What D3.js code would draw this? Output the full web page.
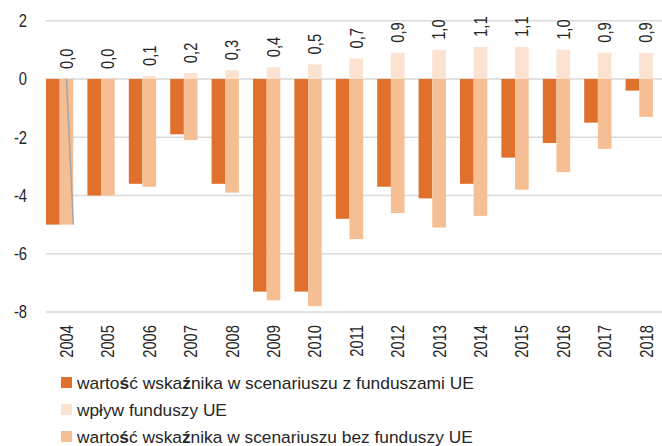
<!DOCTYPE html>
<html>
<head>
<meta charset="utf-8">
<style>
  body { margin: 0; background: #fff; }
  svg text { font-family: "Liberation Sans", Arial, sans-serif; fill: #262626; }
  .grid line { stroke: #d9d9d9; stroke-width: 1.5; }
</style>
</head>
<body>
<svg width="662" height="446"></svg>
<script src="https://cdn.jsdelivr.net/npm/d3@7"></script>
<script>

var years = ["2004","2005","2006","2007","2008","2009","2010","2011","2012","2013","2014","2015","2016","2017","2018"];
var withFunds = [-5.0,-4.0,-3.6,-1.9,-3.6,-7.3,-7.3,-4.8,-3.7,-4.1,-3.6,-2.7,-2.2,-1.5,-0.4];
var impact = [0.0,0.0,0.1,0.2,0.3,0.4,0.5,0.7,0.9,1.0,1.1,1.1,1.0,0.9,0.9];
var withoutFunds = [-5.0,-4.0,-3.7,-2.1,-3.9,-7.6,-7.8,-5.5,-4.6,-5.1,-4.7,-3.8,-3.2,-2.4,-1.3];
var yTicks = [2, 0, -2, -4, -6, -8];
// stray grey leader line seen on 2004
var leader = [0, -5.0];

var legendItems = [
  {parts: [["warto", false], ["ś", true], ["ć wska", false], ["ź", true], ["nika w scenariuszu z funduszami UE", false]], color: "#df712d", width: 397},
  {parts: [["wpływ funduszy UE", false]], color: "#fbe2d1", width: 150},
  {parts: [["warto", false], ["ś", true], ["ć wska", false], ["ź", true], ["nika w scenariuszu bez funduszy UE", false]], color: "#f6be93", width: 396}
];

var svg = d3.select("svg");
var left = 46, step = 41.4, narrow = "scale(0.82,1)";

var x = d3.scaleBand().domain(years).range([left, left + step * years.length]).padding(0);
var y = d3.scaleLinear().domain([-8, 2]).range([312, 20.7]);
var bw = x.bandwidth() * 0.33;

// gridlines
svg.append("g").attr("class", "grid")
  .selectAll("line").data(yTicks).join("line")
  .attr("x1", left).attr("x2", 662)
  .attr("y1", function(d) { return y(d); })
  .attr("y2", function(d) { return y(d); });

// y labels
svg.append("g").selectAll("text").data(yTicks).join("text")
  .attr("transform", function(d) { return "translate(27," + y(d) + ") " + narrow; })
  .attr("dy", "0.35em").attr("text-anchor", "end")
  .attr("font-size", 18)
  .text(function(d) { return String(d); });

var data = years.map(function(yr, i) {
  return {year: yr, a: withFunds[i], b: impact[i], c: withoutFunds[i]};
});

// dark bars
svg.append("g").selectAll("rect").data(data).join("rect")
  .attr("x", function(d) { return x(d.year); })
  .attr("width", bw)
  .attr("y", function(d) { return y(Math.max(0, d.a)); })
  .attr("height", function(d) { return Math.abs(y(d.a) - y(0)); })
  .attr("fill", "#df712d");

// impact bars (positive)
svg.append("g").selectAll("rect").data(data).join("rect")
  .attr("x", function(d) { return x(d.year) + bw; })
  .attr("width", bw)
  .attr("y", function(d) { return y(d.b); })
  .attr("height", function(d) { return y(0) - y(d.b); })
  .attr("fill", "#fbe2d1");

// without funds bars
svg.append("g").selectAll("rect").data(data).join("rect")
  .attr("x", function(d) { return x(d.year) + bw; })
  .attr("width", bw)
  .attr("y", y(0))
  .attr("height", function(d) { return y(d.c) - y(0); })
  .attr("fill", "#f6be93");

// leader line
svg.append("line")
  .attr("x1", x("2004") + bw * 1.5).attr("y1", y(leader[0]))
  .attr("x2", x("2004") + bw * 2).attr("y2", y(leader[1]))
  .attr("stroke", "#a6a6a6").attr("stroke-width", 1.5);

// data labels
var fmt = function(v) { return v.toFixed(1).replace(".", ","); };
svg.append("g").selectAll("text").data(data).join("text")
  .attr("transform", function(d) {
    return "translate(" + (x(d.year) + bw * 1.5) + "," + (y(d.b) - 10) + ") rotate(-90) " + narrow;
  })
  .attr("dy", "0.35em")
  .attr("font-size", 18)
  .text(function(d) { return fmt(d.b); });

// year labels
svg.append("g").selectAll("text").data(years).join("text")
  .attr("transform", function(d) {
    return "translate(" + (x(d) + x.bandwidth() / 2) + ",325) rotate(-90) " + narrow;
  })
  .attr("dy", "0.35em").attr("text-anchor", "end")
  .attr("font-size", 18)
  .text(function(d) { return d; });

// legend
var lg = svg.append("g").selectAll("g").data(legendItems).join("g")
  .attr("transform", function(d, i) { return "translate(61," + (383 + i * 27) + ")"; });
lg.append("rect").attr("x", 0).attr("y", -6).attr("width", 11).attr("height", 11)
  .attr("fill", function(d) { return d.color; });
lg.append("text").attr("dy", "0.35em").attr("font-size", 17)
  .each(function(d) {
    var t = d3.select(this);
    t.selectAll("tspan").data(d.parts).join("tspan")
      .attr("font-weight", function(p) { return p[1] ? "bold" : null; })
      .text(function(p) { return p[0]; });
    var w = this.getComputedTextLength();
    t.attr("transform", "translate(16,0) scale(" + (d.width / w) + ",1)");
  });

</script>
</body>
</html>
